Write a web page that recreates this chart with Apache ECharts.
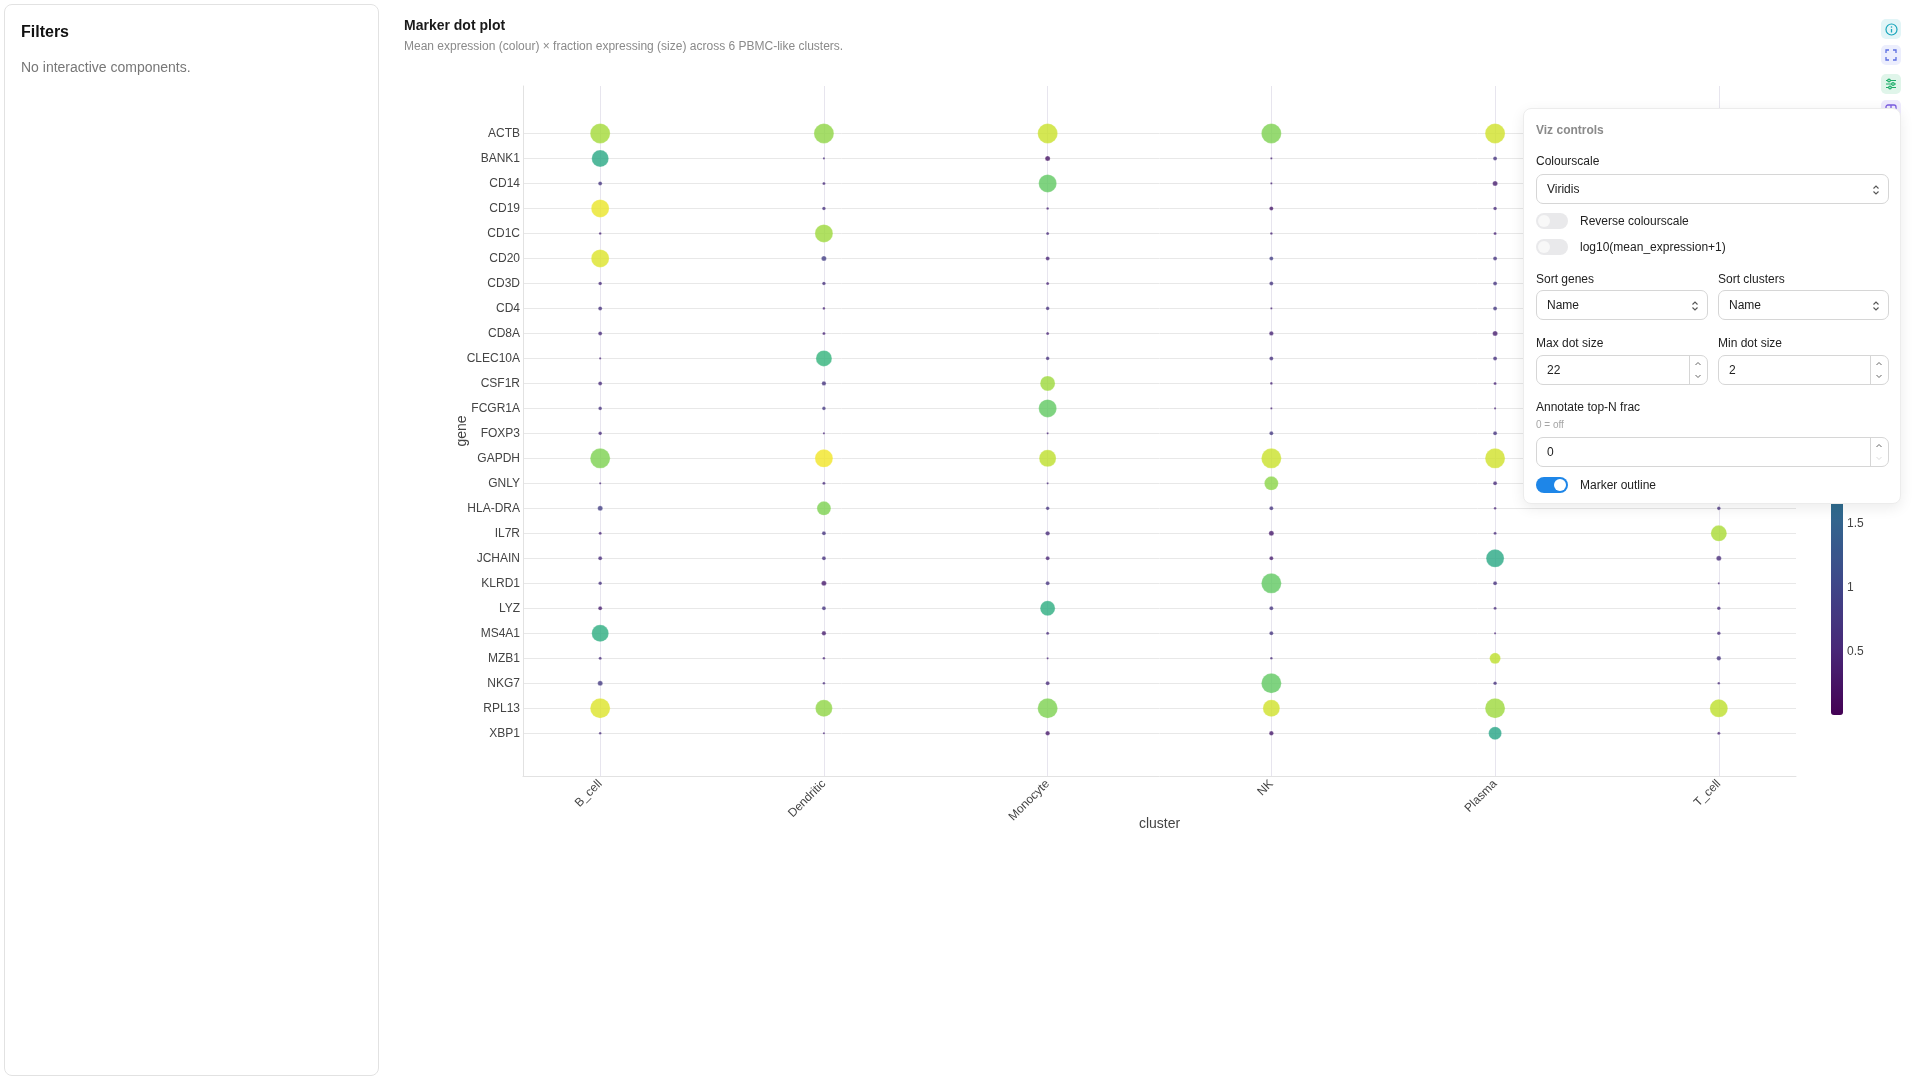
<!DOCTYPE html>
<html>
<head>
<meta charset="utf-8">
<title>Marker dot plot</title>
<script src="https://cdn.jsdelivr.net/npm/echarts@6/dist/echarts.min.js"></script>
<style>
  html, body { margin: 0; padding: 0; width: 1920px; height: 1080px; overflow: hidden; background: #fff;
    font-family: "Liberation Sans", Arial, sans-serif; }
  #chart { position: absolute; left: 0; top: 0; width: 1920px; height: 1080px; }
  .sidebar { position: absolute; left: 4px; top: 4px; width: 375px; height: 1072px; box-sizing: border-box;
    border: 1px solid #e2e2e2; border-radius: 8px; }
  .sidebar h3 { position: absolute; left: 16px; top: 17px; margin: 0; font-size: 16px; line-height: 20px; font-weight: bold; color: #111; }
  .sidebar p { position: absolute; left: 16px; top: 53px; margin: 0; font-size: 14px; line-height: 18px; color: #777; }
  .icons { position: absolute; left: 1881px; top: 0; width: 20px; }
  .icon { position: absolute; left: 0; width: 20px; height: 20px; border-radius: 5px; display: flex; align-items: center; justify-content: center; }
  .panel { position: absolute; left: 1523px; top: 108px; width: 378px; height: 396px; box-sizing: border-box;
    background: #fff; border: 1px solid #ececec; border-radius: 8px; box-shadow: 0 4px 14px rgba(0,0,0,0.08);
    font-size: 12px; color: #222; z-index: 5; }
  .panel .lbl { position: absolute; left: 12px; line-height: 14px; white-space: nowrap; }
  .panel .box { position: absolute; height: 30px; box-sizing: border-box; border: 1px solid #d6d6d6; border-radius: 7px; background: #fff; }
  .panel .box span.v { position: absolute; left: 10px; top: 7px; line-height: 14px; }
  .panel .box svg.ar { position: absolute; right: 8px; top: 9px; }
  .panel .spin { position: absolute; right: 0; top: 0; bottom: 0; width: 17px; border-left: 1px solid #d6d6d6; }
  .panel .tg { position: absolute; left: 12px; width: 32px; height: 16px; border-radius: 8px; background: #e9e9eb; }
  .panel .tg i { position: absolute; left: 2px; top: 2px; width: 12px; height: 12px; border-radius: 6px; background: #f8f8f8; }
  .panel .tg.on { background: #1e86e8; }
  .panel .tg.on i { left: 18px; background: #fff; }
</style>
</head>
<body>
<div id="chart"></div>

<div class="sidebar">
  <h3>Filters</h3>
  <p>No interactive components.</p>
</div>

<div class="icons">
  <div class="icon" style="top:19px;background:#e2f5f7;">
    <svg width="13" height="13" viewBox="0 0 13 13"><circle cx="6.5" cy="6.5" r="5.5" fill="none" stroke="#19a6bd" stroke-width="1.2"/><line x1="6.5" y1="6" x2="6.5" y2="9.5" stroke="#19a6bd" stroke-width="1.3"/><circle cx="6.5" cy="4" r="0.8" fill="#19a6bd"/></svg>
  </div>
  <div class="icon" style="top:45px;background:#eceefd;">
    <svg width="12" height="12" viewBox="0 0 12 12" fill="none" stroke="#5b6ee1" stroke-width="1.3"><path d="M1 4V1h3M8 1h3v3M11 8v3H8M4 11H1V8"/></svg>
  </div>
  <div class="icon" style="top:74px;background:#e0f5ea;">
    <svg width="12" height="12" viewBox="0 0 12 12" fill="none" stroke="#1fae6a" stroke-width="1.2"><path d="M1 2.5h10M1 6h10M1 9.5h10"/><circle cx="4" cy="2.5" r="1.3" fill="#e0f5ea"/><circle cx="8" cy="6" r="1.3" fill="#e0f5ea"/><circle cx="5" cy="9.5" r="1.3" fill="#e0f5ea"/></svg>
  </div>
  <div class="icon" style="top:100px;background:#eeeafd;">
    <svg width="12" height="12" viewBox="0 0 12 12" fill="none" stroke="#7b5ce0" stroke-width="1.3"><rect x="1" y="1" width="10" height="10" rx="2"/><path d="M6 1v10"/></svg>
  </div>
</div>

<div class="panel">
  <div class="lbl" style="top:14px;font-weight:bold;color:#8a8a8a;">Viz controls</div>
  <div class="lbl" style="top:45px;">Colourscale</div>
  <div class="box" style="left:12px;top:65px;width:353px;"><span class="v">Viridis</span>
    <svg class="ar" width="8" height="12" viewBox="0 0 8 12" fill="none" stroke="#555" stroke-width="1.1"><path d="M1.5 4.5L4 2l2.5 2.5M1.5 7.5L4 10l2.5-2.5"/></svg></div>
  <div class="tg" style="top:104px;"><i></i></div>
  <div class="lbl" style="left:56px;top:105px;">Reverse colourscale</div>
  <div class="tg" style="top:130px;"><i></i></div>
  <div class="lbl" style="left:56px;top:131px;">log10(mean_expression+1)</div>

  <div class="lbl" style="top:163px;">Sort genes</div>
  <div class="lbl" style="left:194px;top:163px;">Sort clusters</div>
  <div class="box" style="left:12px;top:181px;width:172px;"><span class="v">Name</span>
    <svg class="ar" width="8" height="12" viewBox="0 0 8 12" fill="none" stroke="#555" stroke-width="1.1"><path d="M1.5 4.5L4 2l2.5 2.5M1.5 7.5L4 10l2.5-2.5"/></svg></div>
  <div class="box" style="left:194px;top:181px;width:171px;"><span class="v">Name</span>
    <svg class="ar" width="8" height="12" viewBox="0 0 8 12" fill="none" stroke="#555" stroke-width="1.1"><path d="M1.5 4.5L4 2l2.5 2.5M1.5 7.5L4 10l2.5-2.5"/></svg></div>

  <div class="lbl" style="top:227px;">Max dot size</div>
  <div class="lbl" style="left:194px;top:227px;">Min dot size</div>
  <div class="box" style="left:12px;top:246px;width:172px;"><span class="v">22</span>
    <div class="spin"><svg width="16" height="28" viewBox="0 0 16 28" fill="none" stroke="#666" stroke-width="1"><path d="M5.5 9L8 6.5l2.5 2.5M5.5 19L8 21.5l2.5-2.5"/></svg></div></div>
  <div class="box" style="left:194px;top:246px;width:171px;"><span class="v">2</span>
    <div class="spin"><svg width="16" height="28" viewBox="0 0 16 28" fill="none" stroke="#666" stroke-width="1"><path d="M5.5 9L8 6.5l2.5 2.5M5.5 19L8 21.5l2.5-2.5"/></svg></div></div>

  <div class="lbl" style="top:291px;">Annotate top-N frac</div>
  <div class="lbl" style="top:310px;font-size:10px;line-height:12px;color:#a5a5a5;">0 = off</div>
  <div class="box" style="left:12px;top:328px;width:353px;"><span class="v">0</span>
    <div class="spin"><svg width="16" height="28" viewBox="0 0 16 28" fill="none" stroke-width="1"><path d="M5.5 9L8 6.5l2.5 2.5" stroke="#666"/><path d="M5.5 19L8 21.5l2.5-2.5" stroke="#ddd"/></svg></div></div>

  <div class="tg on" style="top:368px;"><i></i></div>
  <div class="lbl" style="left:56px;top:369px;">Marker outline</div>
</div>

<script>
// clusters on x, genes on y (sorted by name)
var clusters = ['B_cell', 'Dendritic', 'Monocyte', 'NK', 'Plasma', 'T_cell'];
var genes = ['ACTB', 'BANK1', 'CD14', 'CD19', 'CD1C', 'CD20', 'CD3D', 'CD4', 'CD8A', 'CLEC10A',
  'CSF1R', 'FCGR1A', 'FOXP3', 'GAPDH', 'GNLY', 'HLA-DRA', 'IL7R', 'JCHAIN', 'KLRD1', 'LYZ',
  'MS4A1', 'MZB1', 'NKG7', 'RPL13', 'XBP1'];

// mean expression per cluster (one value per gene, same order as genes)
var exprBcell = [4.08, 2.85, 0.71, 4.61, 0.48, 4.51, 0.57, 0.66, 0.57, 0.48,
  0.57, 0.66, 0.57, 3.80, 0.48, 0.86, 0.48, 0.57, 0.66, 0.38,
  2.95, 0.57, 0.81, 4.51, 0.57];
var exprDendritic = [3.94, 0.57, 0.57, 0.66, 4.04, 0.86, 0.66, 0.48, 0.48, 3.09,
  0.71, 0.76, 0.48, 4.66, 0.57, 3.80, 0.71, 0.66, 0.33, 0.71,
  0.38, 0.48, 0.57, 3.94, 0.48];
var exprMonocyte = [4.37, 0.24, 3.56, 0.48, 0.57, 0.48, 0.48, 0.66, 0.48, 0.66,
  4.04, 3.56, 0.48, 4.28, 0.57, 0.71, 0.57, 0.48, 0.71, 2.95,
  0.57, 0.48, 0.57, 3.80, 0.33];
var exprNK = [3.80, 0.48, 0.48, 0.29, 0.48, 0.86, 0.71, 0.48, 0.48, 0.66,
  0.48, 0.48, 0.76, 4.37, 3.90, 0.71, 0.33, 0.38, 3.56, 0.71,
  0.71, 0.57, 3.56, 4.42, 0.33];
var exprPlasma = [4.42, 0.71, 0.38, 0.57, 0.48, 0.71, 0.71, 0.76, 0.38, 0.66,
  0.48, 0.48, 0.71, 4.42, 0.57, 0.48, 0.57, 2.85, 0.66, 0.57,
  0.48, 4.28, 0.66, 4.04, 2.76];
var exprTcell = [4.04, 0.48, 0.48, 0.48, 0.48, 0.57, 4.04, 2.95, 2.76, 0.48,
  0.48, 0.48, 1.43, 4.28, 0.71, 0.66, 4.13, 0.57, 0.48, 0.57,
  0.57, 0.71, 0.57, 4.28, 0.48];

// fraction of cells expressing per cluster
var fracBcell = [0.90, 0.75, 0.10, 0.80, 0.03, 0.80, 0.08, 0.10, 0.10, 0.01,
  0.10, 0.08, 0.08, 0.90, 0.01, 0.15, 0.05, 0.10, 0.08, 0.10,
  0.75, 0.05, 0.15, 0.90, 0.03];
var fracDendritic = [0.90, 0.01, 0.05, 0.08, 0.80, 0.15, 0.08, 0.03, 0.05, 0.70,
  0.12, 0.08, 0.01, 0.80, 0.05, 0.60, 0.10, 0.10, 0.15, 0.10,
  0.12, 0.03, 0.03, 0.75, 0.01];
var fracMonocyte = [0.90, 0.15, 0.80, 0.03, 0.05, 0.10, 0.05, 0.08, 0.05, 0.08,
  0.65, 0.80, 0.01, 0.75, 0.01, 0.08, 0.12, 0.10, 0.10, 0.65,
  0.05, 0.01, 0.10, 0.90, 0.12];
var fracNK = [0.90, 0.01, 0.01, 0.10, 0.03, 0.10, 0.10, 0.01, 0.12, 0.10,
  0.03, 0.01, 0.10, 0.90, 0.60, 0.10, 0.15, 0.10, 0.90, 0.10,
  0.10, 0.03, 0.90, 0.75, 0.12];
var fracPlasma = [0.90, 0.10, 0.15, 0.08, 0.05, 0.10, 0.10, 0.10, 0.15, 0.10,
  0.05, 0.01, 0.10, 0.90, 0.10, 0.03, 0.05, 0.80, 0.10, 0.05,
  0.01, 0.45, 0.08, 0.90, 0.55];
var fracTcell = [0.90, 0.01, 0.01, 0.03, 0.01, 0.05, 0.80, 0.55, 0.50, 0.03,
  0.01, 0.03, 0.20, 0.90, 0.10, 0.08, 0.70, 0.15, 0.01, 0.08,
  0.08, 0.12, 0.03, 0.80, 0.05];

// colourbar ticks
var colourTicks = [0.5, 1, 1.5, 2, 2.5, 3, 3.5, 4, 4.5];

var exprByCluster = [exprBcell, exprDendritic, exprMonocyte, exprNK, exprPlasma, exprTcell];
var fracByCluster = [fracBcell, fracDendritic, fracMonocyte, fracNK, fracPlasma, fracTcell];

var MIN_DOT = 2, MAX_DOT = 22;
var viridis = ['#440154', '#482878', '#3e4989', '#31688e', '#26828e', '#1f9e89', '#35b779', '#6ece58', '#b5de2b', '#fde725'];

var points = [];
clusters.forEach(function (c, ci) {
  genes.forEach(function (g, gi) {
    points.push([ci, gi, exprByCluster[ci][gi], fracByCluster[ci][gi]]);
  });
});

var clusterTicks = clusters.map(function (c, i) { return i; });
var geneTicks = genes.map(function (g, i) { return i; });

var chart = echarts.init(document.getElementById('chart'));
chart.setOption({
  animation: false,
  textStyle: { fontFamily: 'Liberation Sans, Arial, sans-serif' },
  title: {
    text: 'Marker dot plot',
    subtext: 'Mean expression (colour) \u00d7 fraction expressing (size) across 6 PBMC-like clusters.',
    left: 404, top: 19, itemGap: 8, padding: 0,
    textStyle: { fontSize: 14, fontWeight: 'bold', color: '#1a1a1a' },
    subtextStyle: { fontSize: 12, color: '#8a8a8a' }
  },
  grid: [
    { left: 523, right: 124, top: 86, bottom: 304 },
    { left: 1831, top: 110, width: 12, height: 605 }
  ],
  xAxis: [{
    type: 'value', min: -0.345, max: 5.345,
    name: 'cluster', nameLocation: 'middle', nameGap: 41, nameMoveOverlap: false,
    nameTextStyle: { fontSize: 14, color: '#444' },
    axisLine: { onZero: false, lineStyle: { color: '#e2e2e2' } },
    axisTick: { show: false, customValues: clusterTicks },
    axisLabel: { customValues: clusterTicks, rotate: 45, margin: 6, fontSize: 12, color: '#444',
      formatter: function (v) { return clusters[v]; } },
    splitLine: { show: true, lineStyle: { color: '#e7e5ee' } }
  }, { gridIndex: 1, type: 'value', show: false }],
  yAxis: [{
    type: 'value', inverse: true, min: -1.9, max: 25.71,
    name: 'gene', nameLocation: 'middle', nameGap: 54, nameRotate: 90, nameMoveOverlap: false,
    nameTextStyle: { fontSize: 14, color: '#444' },
    axisLine: { show: true, onZero: false, lineStyle: { color: '#e2e2e2' } },
    axisTick: { show: false, customValues: geneTicks },
    axisLabel: { customValues: geneTicks, margin: 3, fontSize: 12, color: '#444',
      formatter: function (v) { return genes[v]; } },
    splitLine: { show: true, lineStyle: { color: '#e8e8e8' } }
  }, {
    gridIndex: 1, type: 'value', min: 0, max: 4.75, position: 'right',
    axisLine: { show: false }, axisTick: { show: false, customValues: colourTicks }, splitLine: { show: false },
    axisLabel: { customValues: colourTicks, margin: 4, fontSize: 12, color: '#444' }
  }],
  visualMap: {
    type: 'continuous', min: 0, max: 4.75, dimension: 2, seriesIndex: 0,
    left: 1831, top: 110, padding: 0, itemWidth: 12, itemHeight: 605,
    calculable: false, text: null, showLabel: false, hoverLink: false,
    inRange: { color: viridis }
  },
  series: [{
    type: 'scatter',
    data: points,
    symbolSize: function (val) { return MIN_DOT + (MAX_DOT - MIN_DOT) * val[3]; },
    itemStyle: { opacity: 0.8, borderColor: 'rgba(255,255,255,0.6)', borderWidth: 0.5 }
  }]
});
</script>
</body>
</html>
